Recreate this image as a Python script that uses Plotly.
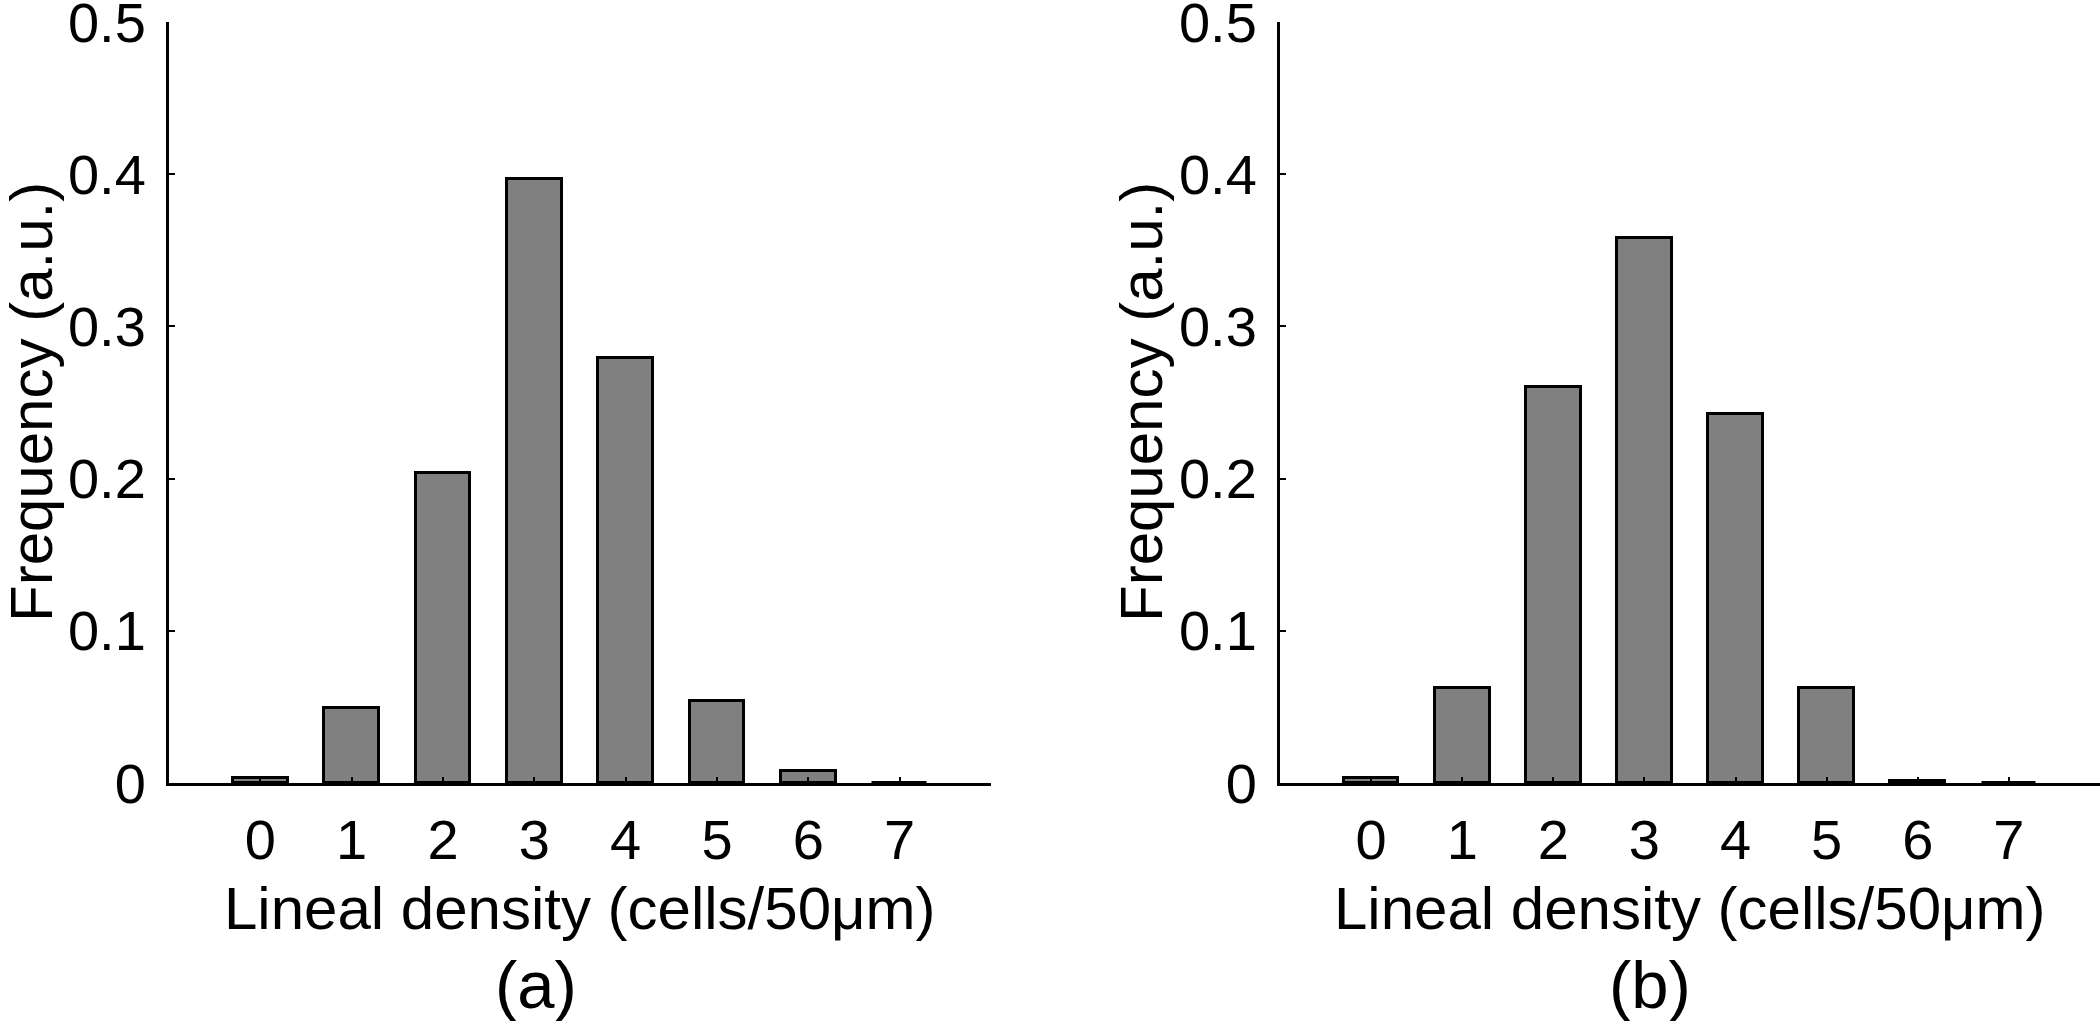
import plotly.graph_objects as go

# ---- data ----
categories = [0, 1, 2, 3, 4, 5, 6, 7]
freq_a = [0.0034, 0.0495, 0.204, 0.397, 0.279, 0.0536, 0.0076, 0.0]
freq_b = [0.0034, 0.0625, 0.260, 0.358, 0.2426, 0.0625, 0.0012, 0.0]
y_ticks = [0, 0.1, 0.2, 0.3, 0.4, 0.5]
y_ticktext = ["0", "0.1", "0.2", "0.3", "0.4", "0.5"]
x_title = "Lineal density (cells/50μm)"
y_title = "Frequency (a.u.)"
panel_labels = ["(a)", "(b)"]

W, H = 2100, 1021
FONT = "Liberation Sans, Arial, Helvetica, sans-serif"
BAR_FILL = "#808080"

fig = go.Figure()
fig.add_trace(go.Bar(x=categories, y=freq_a, width=0.6, xaxis="x", yaxis="y",
                     marker=dict(color=BAR_FILL, line=dict(color="black", width=3)),
                     showlegend=False))
fig.add_trace(go.Bar(x=categories, y=freq_b, width=0.6, xaxis="x2", yaxis="y2",
                     marker=dict(color=BAR_FILL, line=dict(color="black", width=3)),
                     showlegend=False))

def px_x(p):
    return p / W

def px_y(p):
    return 1 - p / H

dom_a = [px_x(169), px_x(991)]
dom_b = [px_x(1280), 1.0]
dom_y = [px_y(783), px_y(22)]

xcommon = dict(range=[-1, 8], tickvals=categories, ticktext=[str(c) for c in categories],
               ticks="inside", ticklen=6, tickwidth=2, tickcolor="black",
               showline=True, linewidth=3, linecolor="black", showgrid=False, zeroline=False,
               tickfont=dict(family=FONT, size=56, color="black"), ticklabelstandoff=6,
               ticklabeloverflow="allow", automargin=False)
ycommon = dict(range=[0, 0.5], tickvals=y_ticks, ticktext=y_ticktext,
               ticks="inside", ticklen=6, tickwidth=2, tickcolor="black",
               showline=True, linewidth=3, linecolor="black", showgrid=False, zeroline=False,
               tickfont=dict(family=FONT, size=56, color="black"), ticklabelstandoff=9,
               ticklabeloverflow="allow", automargin=False)

fig.update_layout(
    width=W, height=H, margin=dict(l=0, r=0, t=0, b=0, autoexpand=False),
    plot_bgcolor="white", paper_bgcolor="white", bargap=0,
    xaxis=dict(domain=dom_a, anchor="y", **xcommon),
    yaxis=dict(domain=dom_y, anchor="x", **ycommon),
    xaxis2=dict(domain=dom_b, anchor="y2", **xcommon),
    yaxis2=dict(domain=dom_y, anchor="x2", **ycommon),
)

annotations = []
for dom, ytx, lab, labx in [(dom_a, 31, panel_labels[0], 536), (dom_b, 1141, panel_labels[1], 1650)]:
    annotations.append(dict(text=x_title, x=(dom[0] + dom[1]) / 2, y=px_y(908), xref="paper", yref="paper",
                            xanchor="center", yanchor="middle", showarrow=False,
                            font=dict(family=FONT, size=60, color="black")))
    annotations.append(dict(text=y_title, x=px_x(ytx), y=px_y(402), xref="paper", yref="paper",
                            xanchor="center", yanchor="middle", textangle=-90, showarrow=False,
                            font=dict(family=FONT, size=60, color="black")))
    annotations.append(dict(text=lab, x=px_x(labx), y=px_y(984), xref="paper", yref="paper",
                            xanchor="center", yanchor="middle", showarrow=False,
                            font=dict(family=FONT, size=67, color="black")))
fig.update_layout(annotations=annotations)

fig.write_html("out.html", config=dict(displayModeBar=False),
               post_script="document.body.style.margin='0px';")
